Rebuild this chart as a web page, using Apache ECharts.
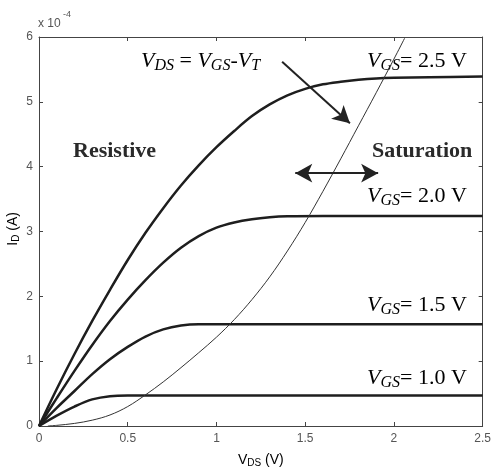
<!DOCTYPE html>
<html>
<head>
<meta charset="utf-8">
<script src="https://cdn.jsdelivr.net/npm/echarts@6/dist/echarts.min.js"></script>
<style>
  html, body { margin: 0; padding: 0; background: #fff; }
  #chart { width: 494px; height: 473px; }
</style>
</head>
<body>
<div id="chart"></div>
<script>
// output curves, I_D in units of 1e-4 A
const vds25 = [0, 0.1, 0.2, 0.3, 0.4, 0.5, 0.6, 0.7, 0.8, 0.9, 1.0, 1.1, 1.2, 1.3, 1.4, 1.5, 1.6, 1.7, 1.8, 1.9, 2.0, 2.2, 2.5];
const id25  = [0, 0.57, 1.11, 1.62, 2.1, 2.56, 2.98, 3.36, 3.71, 4.02, 4.3, 4.55, 4.78, 4.96, 5.1, 5.2, 5.27, 5.31, 5.34, 5.36, 5.37, 5.38, 5.39];

const vds20 = [0, 0.1, 0.2, 0.3, 0.4, 0.5, 0.6, 0.7, 0.8, 0.9, 1.0, 1.1, 1.2, 1.3, 1.4, 1.6, 2.0, 2.5];
const id20  = [0, 0.43, 0.85, 1.25, 1.62, 1.95, 2.25, 2.52, 2.75, 2.93, 3.06, 3.14, 3.19, 3.22, 3.235, 3.24, 3.24, 3.24];

const vds15 = [0, 0.1, 0.2, 0.3, 0.4, 0.5, 0.6, 0.7, 0.8, 0.9, 1.0, 1.5, 2.0, 2.5];
const id15  = [0, 0.28, 0.54, 0.8, 1.03, 1.22, 1.38, 1.49, 1.55, 1.57, 1.57, 1.57, 1.57, 1.57];

const vds10 = [0, 0.1, 0.2, 0.3, 0.4, 0.5, 1.0, 2.0, 2.5];
const id10  = [0, 0.16, 0.3, 0.41, 0.46, 0.47, 0.47, 0.47, 0.47];

// V_DS = V_GS - V_T locus (thin line)
const vdsSat = [0.05, 0.1, 0.2, 0.3, 0.4, 0.5, 0.6, 0.7, 0.8, 0.9, 1.0, 1.1, 1.2, 1.3, 1.4, 1.5, 1.6, 1.7, 1.8, 1.9, 2.0, 2.06];
const idSat  = [0, 0.01, 0.04, 0.09, 0.17, 0.3, 0.48, 0.68, 0.9, 1.13, 1.37, 1.64, 1.95, 2.3, 2.7, 3.14, 3.62, 4.12, 4.63, 5.14, 5.66, 5.98];

// arrows in data coordinates [vds, id]
const arrowDiag = [[1.37, 5.62], [1.752, 4.67]];
const arrowBoth = [[1.444, 3.9], [1.911, 3.9]];

const xTicks = [0, 0.5, 1, 1.5, 2, 2.5];
const yTicks = [0, 1, 2, 3, 4, 5, 6];

function zip(xs, ys) {
  return xs.map(function (x, i) { return [x, ys[i]]; });
}

var chart = echarts.init(document.getElementById('chart'));

var axisColor = '#444';
var serif = 'Liberation Serif';

var rich = {
  v: { fontFamily: serif, fontStyle: 'italic', fontSize: 22, color: '#222' },
  s: { fontFamily: serif, fontStyle: 'italic', fontSize: 16, color: '#222', padding: [10, 0, 0, 0] },
  n: { fontFamily: serif, fontSize: 22, color: '#222' }
};

function gsLabel(txt, x, y) {
  return {
    type: 'text', left: x, top: y,
    style: { text: '{v|V}{s|GS}{n|= ' + txt + ' V}', rich: rich }
  };
}

function curve(xs, ys) {
  return { type: 'line', data: zip(xs, ys), smooth: 0.35, showSymbol: false,
    lineStyle: { color: '#1e1e1e', width: 2.5 } };
}

var option = {
  animation: false,
  grid: { left: 39, right: 10.5, top: 37, bottom: 47 },
  xAxis: [{
    type: 'value', min: 0, max: 2.5, interval: 0.5,
    axisLine: { show: true, onZero: false, lineStyle: { color: axisColor } },
    axisTick: { show: true, inside: true, length: 4, lineStyle: { color: axisColor } },
    axisLabel: { color: '#555', fontFamily: 'Liberation Sans', fontSize: 12, margin: 7,
      formatter: function (v) { return xTicks.indexOf(v) >= 0 ? String(v) : ''; } },
    splitLine: { show: false }
  }, {
    type: 'value', position: 'top', min: 0, max: 2.5, interval: 0.5,
    axisLine: { show: true, onZero: false, lineStyle: { color: axisColor } },
    axisTick: { show: true, inside: true, length: 4, lineStyle: { color: axisColor } },
    axisLabel: { show: false }, splitLine: { show: false }
  }],
  yAxis: [{
    type: 'value', min: 0, max: 6, interval: 1,
    axisLine: { show: true, onZero: false, lineStyle: { color: axisColor } },
    axisTick: { show: true, inside: true, length: 4, lineStyle: { color: axisColor } },
    axisLabel: { color: '#555', fontFamily: 'Liberation Sans', fontSize: 12, margin: 6,
      formatter: function (v) { return yTicks.indexOf(v) >= 0 ? String(v) : ''; } },
    splitLine: { show: false }
  }, {
    type: 'value', position: 'right', min: 0, max: 6, interval: 1,
    axisLine: { show: true, onZero: false, lineStyle: { color: axisColor } },
    axisTick: { show: true, inside: true, length: 4, lineStyle: { color: axisColor } },
    axisLabel: { show: false }, splitLine: { show: false }
  }],
  series: [
    curve(vds25, id25),
    curve(vds20, id20),
    curve(vds15, id15),
    curve(vds10, id10),
    { type: 'line', data: zip(vdsSat, idSat), smooth: 0.35, showSymbol: false,
      lineStyle: { color: '#333', width: 1 },
      markLine: {
        silent: true, animation: false,
        label: { show: false },
        lineStyle: { color: '#222', width: 2, type: 'solid' },
        symbolSize: [14, 17],
        data: [
          [{ coord: arrowDiag[0], symbol: 'none' }, { coord: arrowDiag[1], symbol: 'arrow' }],
          [{ coord: arrowBoth[0], symbol: 'arrow' }, { coord: arrowBoth[1], symbol: 'arrow' }]
        ]
      } }
  ],
  graphic: [
    { type: 'text', left: 38, top: 18,
      style: { text: 'x 10', fontFamily: 'Liberation Sans', fontSize: 12, fill: '#555' } },
    { type: 'text', left: 63, top: 10,
      style: { text: '-4', fontFamily: 'Liberation Sans', fontSize: 9, fill: '#555' } },
    { type: 'text', left: 238, top: 453,
      style: { text: '{a|V}{b|DS}{a| (V)}', rich: {
        a: { fontFamily: 'Liberation Sans', fontSize: 14, color: '#555' },
        b: { fontFamily: 'Liberation Sans', fontSize: 10, color: '#555', padding: [7, 0, 0, 0] } } } },
    { type: 'text', left: 6, top: 212, rotation: Math.PI / 2,
      style: { text: '{a|I}{b|D}{a| (A)}', rich: {
        a: { fontFamily: 'Liberation Sans', fontSize: 14, color: '#555' },
        b: { fontFamily: 'Liberation Sans', fontSize: 10, color: '#555', padding: [7, 0, 0, 0] } } } },
    { type: 'text', left: 141, top: 50,
      style: { text: '{v|V}{s|DS}{n| = }{v|V}{s|GS}{n|-}{v|V}{s|T}', rich: rich } },
    gsLabel('2.5', 367, 50),
    gsLabel('2.0', 367, 185),
    gsLabel('1.5', 367, 294),
    gsLabel('1.0', 367, 367),
    { type: 'text', left: 73, top: 140,
      style: { text: 'Resistive', fontFamily: serif, fontWeight: 'bold', fontSize: 22, fill: '#2a2a2a' } },
    { type: 'text', left: 372, top: 140,
      style: { text: 'Saturation', fontFamily: serif, fontWeight: 'bold', fontSize: 22, fill: '#2a2a2a' } }
  ]
};

chart.setOption(option);
</script>
</body>
</html>
